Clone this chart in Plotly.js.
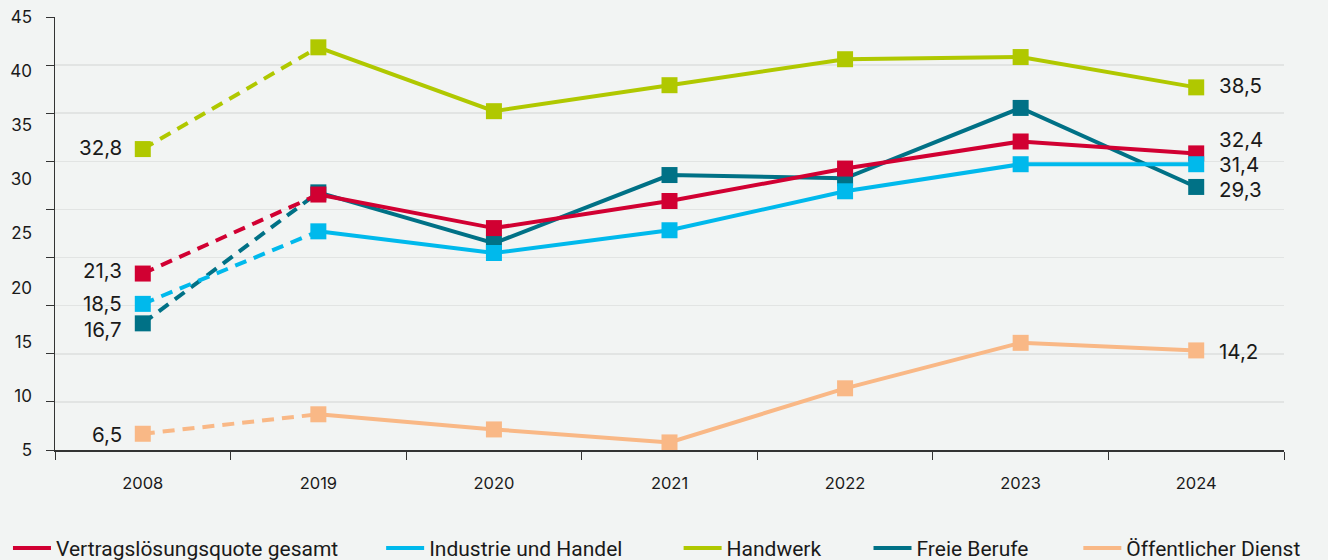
<!DOCTYPE html>
<html><head><meta charset="utf-8">
<script src="https://cdn.plot.ly/plotly-3.0.1.min.js"></script>
<style>html,body{margin:0;padding:0;background:#f2f4f3;}#chart{width:1328px;height:560px;}</style>
</head><body><div id="chart"></div>
<script>
const years = ['2008','2019','2020','2021','2022','2023','2024'];
const gesamt     = [21.3, 28.6, 25.5, 28.0, 31.0, 33.5, 32.4];
const industrie  = [18.5, 25.2, 23.2, 25.3, 28.9, 31.4, 31.4];
const handwerk   = [32.8, 42.2, 36.3, 38.7, 41.1, 41.3, 38.5];
const freie      = [16.7, 28.8, 24.1, 30.4, 30.1, 36.6, 29.3];
const oeffentlich= [6.5, 8.3, 6.9, 5.7, 10.7, 14.9, 14.2];
const yTickVals = [5,10,15,20,25,30,35,40,45];
const yTickText = ['5','10','15','20','25','30','35','40','45'];

const series = [
  {name:'Freie Berufe', y:freie, color:'#007186', rank:4, l:-6, r:-3},
  {name:'Vertragslösungsquote gesamt', y:gesamt, color:'#d10032', rank:1, l:3, r:14},
  {name:'Industrie und Handel', y:industrie, color:'#00b9ec', rank:2, l:0, r:0},
  {name:'Handwerk', y:handwerk, color:'#b0c800', rank:3, l:2, r:2},
  {name:'Öffentlicher Dienst', y:oeffentlich, color:'#f9b886', rank:5, l:-1, r:-1}
];
// legend left edges in container fraction
const legendX = {1:0.006, 2:0.287, 3:0.511, 4:0.654, 5:0.812};

const traces = [];
const annotations = [];
const fmt = v => v.toFixed(1).replace('.', ',');
const last = years.length-1;
const labelFont = {family:'Inter, sans-serif', size:20.5, color:'#1a1a1a'};
series.forEach(s => {
  traces.push({
    x: years.slice(0,2), y: s.y.slice(0,2), type:'scatter', mode:'lines',
    line:{color:s.color, width:4, dash:'12px,8px'}, showlegend:false, hoverinfo:'skip', yaxis:'y'
  });
  traces.push({
    x: years.slice(1), y: s.y.slice(1), type:'scatter', mode:'lines',
    line:{color:s.color, width:4}, name:s.name, legend: s.rank===1?'legend':'legend'+s.rank,
    showlegend:true, yaxis:'y'
  });
  traces.push({
    x: years, y: s.y, type:'scatter', mode:'markers',
    marker:{symbol:'square', size:16, color:s.color}, showlegend:false, yaxis:'y'
  });
  annotations.push({x:0, y:s.y[0], xref:'x', yref:'y', text:fmt(s.y[0]), showarrow:false,
    xanchor:'right', xshift:-19, yshift:s.l, font:labelFont});
  annotations.push({x:last, y:s.y[last], xref:'x', yref:'y', text:fmt(s.y[last]), showarrow:false,
    xanchor:'left', xshift:21, yshift:s.r, font:labelFont});
});

const legendBase = {orientation:'h', yref:'container', xref:'container', yanchor:'middle', y:0.021, xanchor:'left',
  bgcolor:'rgba(0,0,0,0)', borderwidth:0, itemwidth:38,
  font:{family:'Roboto, sans-serif', size:21, color:'#1a1a1a'}};
const layout = {
  width:1328, height:560,
  paper_bgcolor:'#f2f4f3', plot_bgcolor:'#f2f4f3',
  margin:{l:55, r:44, t:17, b:110, autoexpand:false},
  separators:',.',
  showlegend:true,
  xaxis:{type:'category', categoryorder:'array', categoryarray:years, range:[-0.5,6.5],
    tickson:'boundaries', ticks:'outside', ticklen:8, tickcolor:'#333', showline:true, linecolor:'#333', linewidth:1.5,
    showgrid:false, zeroline:false, ticklabelstandoff:18, tickfont:{family:'Inter, sans-serif', size:16.5, color:'#1a1a1a'}},
  yaxis:{range:[5,45], tickvals:yTickVals, ticktext:yTickText, showgrid:false, zeroline:false, showline:false,
    ticks:'', ticklabelstandoff:22, tickfont:{family:'Inter, sans-serif', size:17, color:'#1a1a1a'}},
  yaxis2:{overlaying:'y', side:'left', range:[0,9], dtick:1, tick0:0, showgrid:true, gridcolor:'#e2e4e3', gridwidth:1.5,
    zeroline:false, showline:true, linecolor:'#333', linewidth:1.5, ticks:'outside', ticklen:8, tickcolor:'#333',
    showticklabels:false},
  legend:Object.assign({}, legendBase, {x:legendX[1]}),
  legend2:Object.assign({}, legendBase, {x:legendX[2]}),
  legend3:Object.assign({}, legendBase, {x:legendX[3]}),
  legend4:Object.assign({}, legendBase, {x:legendX[4]}),
  legend5:Object.assign({}, legendBase, {x:legendX[5]}),
  annotations:annotations
};
traces.unshift({x:[years[0]], y:[0], yaxis:'y2', type:'scatter', mode:'markers', marker:{opacity:0}, showlegend:false, hoverinfo:'skip'});
Plotly.newPlot('chart', traces, layout, {displayModeBar:false, staticPlot:true});
</script></body></html>
